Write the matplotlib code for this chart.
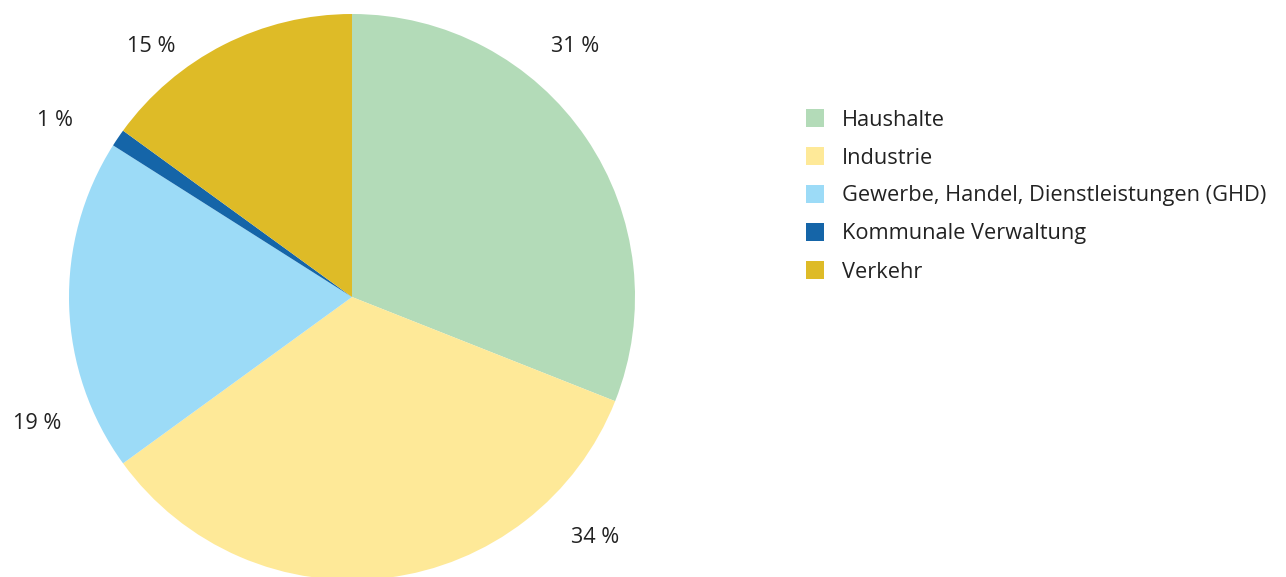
import matplotlib.pyplot as plt
from matplotlib.patches import Rectangle

categories = ["Haushalte", "Industrie", "Gewerbe, Handel, Dienstleistungen (GHD)",
              "Kommunale Verwaltung", "Verkehr"]
shares = [31, 34, 19, 1, 15]
value_labels = ["31 %", "34 %", "19 %", "1 %", "15 %"]
colors = ["#b3dbb8", "#fee998", "#9cdbf7", "#1565a8", "#debb27"]

# label positions in radius units (hand placed like the original)
label_pos = [(0.79, 0.886), (0.859, -0.849), (-1.113, -0.446), (-1.049, 0.625), (-0.71, 0.886)]

W, H = 1286, 577
fig = plt.figure(figsize=(W / 100, H / 100), dpi=100)
plt.rcParams["font.family"] = ["Open Sans", "DejaVu Sans"]
text_color = "#222222"

ax = fig.add_axes([69 / W, -3 / H, 566 / W, 566 / H])
ax.pie(shares, colors=colors, startangle=90, counterclock=False, radius=1,
       wedgeprops=dict(linewidth=0))
ax.set_xlim(-1, 1)
ax.set_ylim(-1, 1)
ax.set_aspect("equal")
ax.axis("off")

for txt, (x, y) in zip(value_labels, label_pos):
    ax.text(x, y, txt, ha="center", va="center", fontsize=15.6, color=text_color)

# legend drawn by hand
y0, step = 118, 38
for i, (cat, c) in enumerate(zip(categories, colors)):
    yc = y0 + i * step
    fig.patches.append(Rectangle((806 / W, (H - yc - 9) / H), 18 / W, 18 / H,
                                 transform=fig.transFigure, facecolor=c, edgecolor="none"))
    fig.text(842 / W, (H - yc - 2) / H, cat, ha="left", va="center", fontsize=15.7, color=text_color)

fig.savefig("out.png", dpi=100)
